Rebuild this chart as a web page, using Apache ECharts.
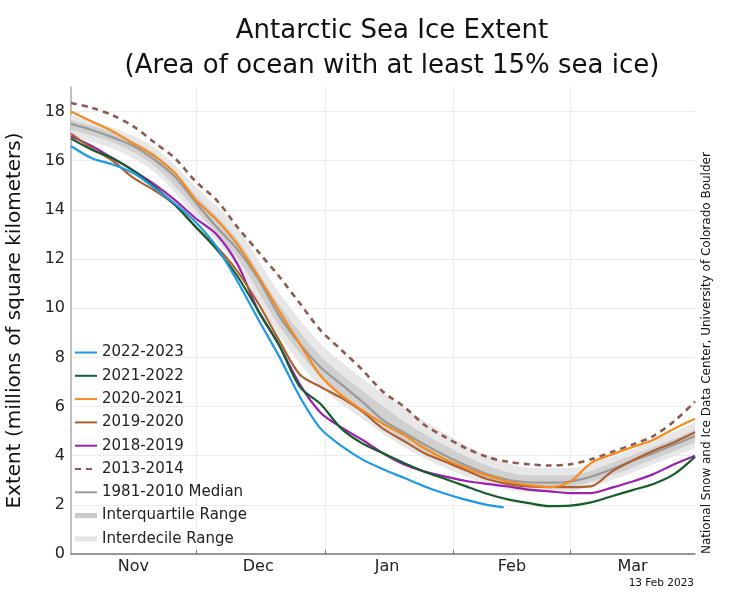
<!DOCTYPE html>
<html>
<head>
<meta charset="utf-8">
<script src="https://cdn.jsdelivr.net/npm/echarts@6/dist/echarts.min.js"></script>
<style>
html, body { margin: 0; padding: 0; background: #fff; }
#main { width: 748px; height: 603px; }
</style>
</head>
<body>
<div id="main"></div>
<script>
// day 0 = 1 Nov, values in millions of km2, read every 5 days
var days = [0, 5, 10, 15, 20, 25, 30, 35, 40, 45, 50, 55, 60, 65, 70, 75, 80, 85, 90, 95, 100, 105, 110, 115, 120, 125, 130, 135, 140, 145, 150];
var days2022 = [0, 5, 10, 15, 20, 25, 30, 35, 40, 45, 50, 55, 60, 65, 70, 75, 80, 85, 90, 95, 100, 104];

var y2022 = [16.6, 16.1, 15.85, 15.5, 14.9, 14.25, 13.5, 12.5, 11.1, 9.55, 8.05, 6.4, 5.1, 4.4, 3.85, 3.45, 3.1, 2.75, 2.45, 2.2, 2.0, 1.9];
var y2021 = [16.9, 16.45, 16.1, 15.6, 14.95, 14.2, 13.3, 12.4, 11.3, 9.9, 8.5, 6.8, 6.1, 5.1, 4.5, 4.1, 3.7, 3.35, 3.05, 2.75, 2.45, 2.22, 2.07, 1.95, 1.97, 2.1, 2.35, 2.6, 2.85, 3.25, 3.95];
var y2020 = [18.0, 17.6, 17.2, 16.7, 16.2, 15.5, 14.4, 13.6, 12.6, 11.3, 9.9, 8.55, 7.25, 6.45, 5.85, 5.3, 4.85, 4.3, 3.85, 3.5, 3.2, 2.95, 2.8, 2.72, 2.95, 3.7, 4.05, 4.35, 4.65, 5.1, 5.5];
var y2019 = [17.1, 16.5, 16.0, 15.3, 14.8, 14.2, 13.3, 12.5, 11.5, 10.2, 8.7, 7.3, 6.8, 6.35, 5.8, 5.1, 4.6, 4.1, 3.75, 3.4, 3.05, 2.85, 2.75, 2.72, 2.72, 2.75, 3.35, 3.8, 4.2, 4.55, 4.95];
var y2018 = [17.0, 16.6, 16.1, 15.6, 15.05, 14.4, 13.65, 13.0, 11.8, 9.9, 8.5, 6.9, 5.75, 5.15, 4.65, 4.1, 3.65, 3.35, 3.15, 2.97, 2.85, 2.75, 2.62, 2.55, 2.48, 2.48, 2.7, 2.95, 3.25, 3.65, 4.0];
var y2013 = [18.35, 18.15, 17.85, 17.4, 16.75, 16.1, 15.15, 14.4, 13.3, 12.3, 11.3, 10.2, 9.1, 8.3, 7.5, 6.6, 6.0, 5.25, 4.75, 4.3, 3.95, 3.75, 3.65, 3.6, 3.65, 3.85, 4.15, 4.45, 4.8, 5.4, 6.2];
var median = [17.5, 17.25, 16.95, 16.6, 16.05, 15.35, 14.3, 13.3, 12.4, 11.2, 9.7, 8.55, 7.6, 6.9, 6.2, 5.45, 4.95, 4.45, 4.0, 3.6, 3.25, 3.02, 2.92, 2.9, 2.95, 3.15, 3.45, 3.8, 4.1, 4.45, 4.8];

// ranges, every 10 days
var bandDays = [0, 10, 20, 30, 40, 50, 60, 70, 80, 90, 100, 110, 120, 130, 140, 150];
var decileLow = [17.0, 16.5, 15.55, 13.7, 11.7, 8.9, 6.8, 5.5, 4.35, 3.5, 2.85, 2.52, 2.55, 3.0, 3.65, 4.3];
var decileHigh = [17.85, 17.35, 16.55, 14.95, 13.25, 10.65, 8.55, 7.15, 5.95, 4.9, 4.0, 3.52, 3.5, 3.95, 4.6, 5.35];
var quartLow = [17.25, 16.75, 15.8, 14.0, 12.05, 9.3, 7.2, 5.85, 4.65, 3.75, 3.05, 2.7, 2.75, 3.2, 3.85, 4.55];
var quartHigh = [17.65, 17.15, 16.3, 14.6, 12.8, 10.15, 8.05, 6.65, 5.4, 4.4, 3.6, 3.2, 3.2, 3.7, 4.35, 5.05];

var months = ['Nov', 'Dec', 'Jan', 'Feb', 'Mar'];
var monthStart = [0, 30, 61, 92, 120];
var monthMid = [15, 45, 76, 106, 135];
var nDays = 151;

var FONT = 'DejaVu Sans';

function pairs(xs, ys) {
    return xs.map(function (d, i) { return [d, ys[i]]; });
}
function diff(hi, lo) {
    return hi.map(function (v, i) { return +(v - lo[i]).toFixed(3); });
}

var cats = [];
for (var i = 0; i < nDays; i++) cats.push(String(i));

var myChart = echarts.init(document.getElementById('main'));

function yearLine(name, xs, ys, color, dashed) {
    return {
        name: name,
        type: 'line',
        data: pairs(xs, ys),
        smooth: 0.3,
        symbol: 'none',
        silent: true,
        color: color,
        lineStyle: { color: color, width: dashed ? 2.6 : 2.2, type: dashed ? [6, 5] : 'solid' },
        z: 5
    };
}

function bandPart(stack, ys, fill) {
    return {
        type: 'line',
        stack: stack,
        data: pairs(bandDays, ys),
        smooth: 0.3,
        symbol: 'none',
        silent: true,
        lineStyle: { width: 0, opacity: 0 },
        areaStyle: fill ? { color: fill, opacity: 1 } : undefined,
        z: 1
    };
}

// thick bar used as legend icon for the two ranges
var barIcon = 'path://M0,0h22v5h-22z';

var option = {
    animation: false,
    backgroundColor: '#fff',
    title: {
        text: 'Antarctic Sea Ice Extent\n(Area of ocean with at least 15% sea ice)',
        left: 387,
        top: 9,
        textAlign: 'center',
        textStyle: { fontFamily: FONT, fontSize: 26, fontWeight: 'normal', color: '#111', lineHeight: 35 }
    },
    grid: { left: 71, right: 53, top: 87, bottom: 49, outerBoundsMode: 'none', containLabel: false },
    legend: {
        orient: 'vertical',
        left: 69,
        top: 340,
        itemWidth: 22,
        itemHeight: 15,
        itemGap: 8.3,
        selectedMode: false,
        itemStyle: { opacity: 0 },
        textStyle: { fontFamily: FONT, fontSize: 15, color: '#222', lineHeight: 15 },
        data: ['2022-2023', '2021-2022', '2020-2021', '2019-2020', '2018-2019', '2013-2014',
               '1981-2010 Median',
               { name: 'Interquartile Range', icon: barIcon, itemStyle: { opacity: 1, color: '#c8c8c8' } },
               { name: 'Interdecile Range', icon: barIcon, itemStyle: { opacity: 1, color: '#e4e4e4' } }]
    },
    xAxis: {
        type: 'category',
        data: cats,
        boundaryGap: false,
        axisLine: { lineStyle: { color: '#777', width: 1.5 } },
        axisTick: {
            show: true,
            inside: true,
            length: 4,
            lineStyle: { color: '#777' },
            interval: function (idx) { return monthStart.indexOf(idx) > 0; }
        },
        axisLabel: {
            interval: function (idx) { return monthMid.indexOf(idx) >= 0; },
            formatter: function (v, idx) {
                var k = monthMid.indexOf(Number(v));
                return k >= 0 ? months[k] : '';
            },
            fontFamily: FONT,
            fontSize: 16,
            color: '#222',
            margin: 5
        },
        splitLine: {
            show: true,
            interval: function (idx) { return monthStart.indexOf(idx) > 0; },
            lineStyle: { color: '#ececec', width: 1 }
        }
    },
    yAxis: {
        type: 'value',
        min: 0,
        max: 19,
        interval: 2,
        name: 'Extent (millions of square kilometers)',
        nameLocation: 'middle',
        nameGap: 46,
        nameTextStyle: { fontFamily: FONT, fontSize: 20, color: '#111' },
        axisLine: { show: true, lineStyle: { color: '#aaa', width: 1.5 } },
        axisTick: { show: false },
        axisLabel: {
            fontFamily: FONT,
            fontSize: 16,
            color: '#222',
            margin: 6,
            showMaxLabel: false,
            formatter: function (v) { return v % 2 === 0 ? String(v) : ''; }
        },
        splitLine: { show: true, showMaxLine: false, lineStyle: { color: '#ececec', width: 1 } }
    },
    graphic: [
        {
            type: 'text',
            x: 707,
            y: 554,
            rotation: Math.PI / 2,
            style: {
                text: 'National Snow and Ice Data Center, University of Colorado Boulder',
                font: '12px "DejaVu Sans"',
                fill: '#111',
                textAlign: 'left',
                textVerticalAlign: 'middle'
            }
        },
        {
            type: 'text',
            x: 694,
            y: 583,
            style: {
                text: '13 Feb 2023',
                font: '10.5px "DejaVu Sans"',
                fill: '#111',
                textAlign: 'right',
                textVerticalAlign: 'middle'
            }
        }
    ],
    series: [
        bandPart('decile', decileLow, null),
        bandPart('decile', diff(decileHigh, decileLow), '#e7e7e7'),
        bandPart('quart', quartLow, null),
        bandPart('quart', diff(quartHigh, quartLow), '#d0d0d0'),
        {
            name: 'Interquartile Range', type: 'line', data: [], symbol: 'none',
            color: '#c8c8c8', lineStyle: { color: '#c8c8c8', width: 5 }
        },
        {
            name: 'Interdecile Range', type: 'line', data: [], symbol: 'none',
            color: '#e4e4e4', lineStyle: { color: '#e4e4e4', width: 5 }
        },
        yearLine('1981-2010 Median', days, median, '#9a9a9a', false),
        yearLine('2013-2014', days, y2013, '#8e5a50', true),
        yearLine('2018-2019', days, y2018, '#9c1fae', false),
        yearLine('2019-2020', days, y2019, '#b0602e', false),
        yearLine('2020-2021', days, y2020, '#f58a1f', false),
        yearLine('2021-2022', days, y2021, '#155e2c', false),
        yearLine('2022-2023', days2022, y2022, '#1c9ae6', false)
    ]
};

myChart.setOption(option);
</script>
</body>
</html>
